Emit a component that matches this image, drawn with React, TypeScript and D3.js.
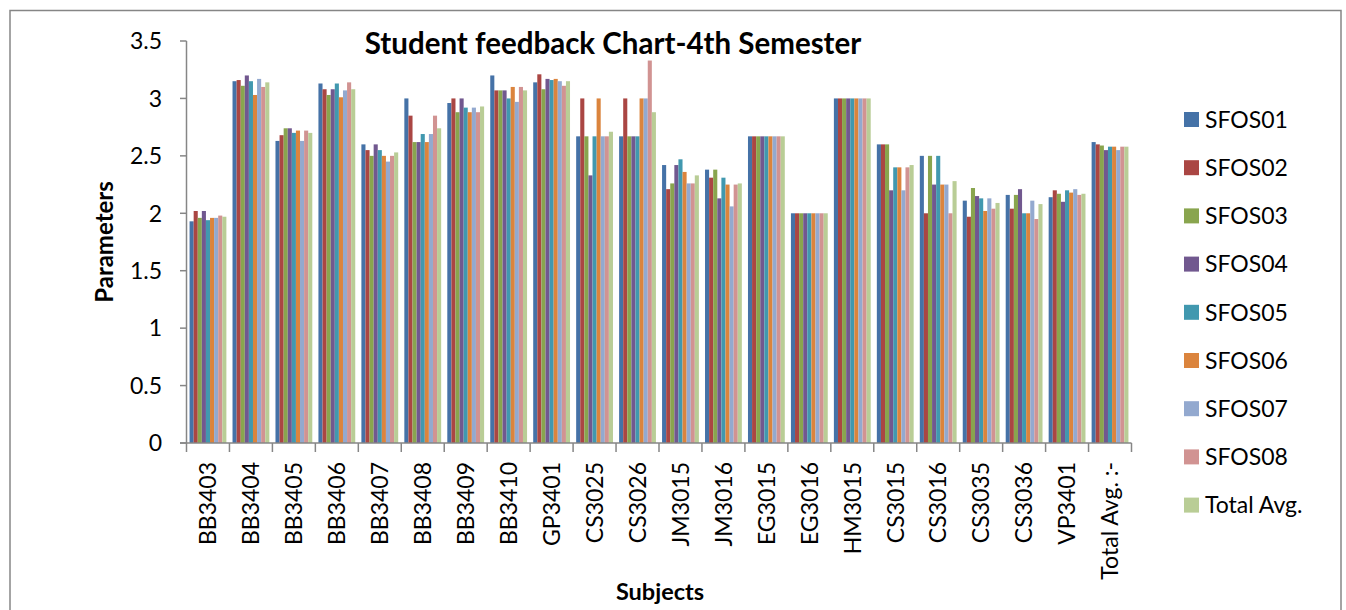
import React from "react";
import * as d3 from "d3";

const categories = ["BB3403","BB3404","BB3405","BB3406","BB3407","BB3408","BB3409","BB3410","GP3401","CS3025","CS3026","JM3015","JM3016","EG3015","EG3016","HM3015","CS3015","CS3016","CS3035","CS3036","VP3401","Total Avg. :-"];

const SFOS01 = [1.93,3.15,2.63,3.13,2.60,3.00,2.96,3.20,3.14,2.67,2.67,2.42,2.38,2.67,2.00,3.00,2.60,2.50,2.11,2.16,2.14,2.62];
const SFOS02 = [2.02,3.16,2.68,3.08,2.55,2.85,3.00,3.07,3.21,3.00,3.00,2.21,2.31,2.67,2.00,3.00,2.60,2.00,1.97,2.04,2.20,2.60];
const SFOS03 = [1.96,3.11,2.74,3.03,2.50,2.62,2.88,3.07,3.08,2.67,2.67,2.26,2.38,2.67,2.00,3.00,2.60,2.50,2.22,2.16,2.17,2.59];
const SFOS04 = [2.02,3.20,2.74,3.08,2.60,2.62,3.00,3.07,3.17,2.33,2.67,2.42,2.13,2.67,2.00,3.00,2.20,2.25,2.15,2.21,2.10,2.55];
const SFOS05 = [1.94,3.15,2.70,3.13,2.55,2.69,2.92,3.00,3.16,2.67,2.67,2.47,2.31,2.67,2.00,3.00,2.40,2.50,2.13,2.00,2.20,2.58];
const SFOS06 = [1.96,3.03,2.72,3.01,2.50,2.62,2.88,3.10,3.17,3.00,3.00,2.36,2.25,2.67,2.00,3.00,2.40,2.25,2.02,2.00,2.18,2.58];
const SFOS07 = [1.96,3.17,2.63,3.07,2.45,2.69,2.92,2.97,3.15,2.67,3.00,2.26,2.06,2.67,2.00,3.00,2.20,2.25,2.13,2.11,2.21,2.55];
const SFOS08 = [1.98,3.10,2.72,3.14,2.50,2.85,2.88,3.10,3.11,2.67,3.33,2.26,2.25,2.67,2.00,3.00,2.40,2.00,2.04,1.95,2.16,2.58];
const TotalAvg = [1.97,3.14,2.70,3.08,2.53,2.74,2.93,3.07,3.15,2.71,2.88,2.33,2.26,2.67,2.00,3.00,2.42,2.28,2.09,2.08,2.17,2.58];

const seriesNames = ["SFOS01","SFOS02","SFOS03","SFOS04","SFOS05","SFOS06","SFOS07","SFOS08","Total Avg."];
const seriesValues = [SFOS01,SFOS02,SFOS03,SFOS04,SFOS05,SFOS06,SFOS07,SFOS08,TotalAvg];
const colors = ["#4572A7","#AA4643","#89A54E","#71588F","#4198AF","#DB843D","#93A9CF","#D19392","#B9CD96"];
const yTicks = [0,0.5,1,1.5,2,2.5,3,3.5];

const W = 1346, H = 610;
const FONT = "Lato, 'Open Sans', sans-serif";
const AXIS = "#868686";

export default function App() {
  const x0 = d3.scaleBand<string>().domain(categories).range([186.5, 1131.5]).paddingInner(0).paddingOuter(0);
  const x1 = d3.scaleBand<string>().domain(seriesNames).range([0, x0.bandwidth()]).paddingInner(0).paddingOuter(0.75);
  const y = d3.scaleLinear().domain([0, 3.5]).range([443, 41]);
  const boundaries = categories.map((c) => x0(c) as number).concat([(x0(categories[categories.length - 1]) as number) + x0.bandwidth()]);

  return (
    <svg width={W} height={H} style={{ position: "absolute", left: 0, top: 0, background: "#fff" }} fontFamily={FONT}>
      <rect x={0} y={0} width={W} height={H} fill="#fff" />
      <path d={`M10,${H + 5} V10.5 H1341 V${H + 5}`} fill="none" stroke={AXIS} strokeWidth={1.5} />
      {/* bars */}
      {categories.map((c, ci) => (
        <g key={c} transform={`translate(${x0(c)},0)`}>
          {seriesNames.map((s, si) => {
            const v = seriesValues[si][ci];
            return (
              <rect key={s} x={x1(s)} y={y(v)} width={x1.bandwidth()} height={y(0) - y(v)} fill={colors[si]} />
            );
          })}
        </g>
      ))}
      {/* y axis */}
      <line x1={186.5} x2={186.5} y1={y(3.5)} y2={y(0)} stroke={AXIS} strokeWidth={1.5} />
      {yTicks.map((t) => (
        <g key={t}>
          <line x1={180} x2={186.5} y1={y(t)} y2={y(t)} stroke={AXIS} strokeWidth={1.5} />
          <text x={162} y={y(t)} dy="0.36em" textAnchor="end" fontSize={23} fill="#000">{t}</text>
        </g>
      ))}
      {/* x axis */}
      <line x1={180} x2={1131.5} y1={y(0)} y2={y(0)} stroke={AXIS} strokeWidth={1.5} />
      {boundaries.map((b, i) => (
        <line key={i} x1={b} x2={b} y1={y(0)} y2={y(0) + 9} stroke={AXIS} strokeWidth={1.5} />
      ))}
      {categories.map((c) => {
        const cx = (x0(c) as number) + x0.bandwidth() / 2;
        return (
          <text key={c} transform={`translate(${cx},462) rotate(-90)`} dy="0.36em" textAnchor="end" fontSize={23} fill="#000">{c}</text>
        );
      })}
      {/* titles */}
      <text x={613} y={54} textAnchor="middle" fontSize={29.5} fontWeight="bold" fill="#000">Student feedback Chart-4th Semester</text>
      <text x={660} y={600} textAnchor="middle" fontSize={23.5} fontWeight="bold" fill="#000">Subjects</text>
      <text transform="translate(113,242) rotate(-90)" textAnchor="middle" fontSize={24} fontWeight="bold" fill="#000">Parameters</text>
      {/* legend */}
      {seriesNames.map((s, i) => {
        const cy = 119.5 + i * 48.2;
        return (
          <g key={s}>
            <rect x={1184} y={cy - 7.5} width={15} height={15} fill={colors[i]} />
            <text x={1205} y={cy} dy="0.36em" fontSize={23} fill="#000">{s}</text>
          </g>
        );
      })}
    </svg>
  );
}
